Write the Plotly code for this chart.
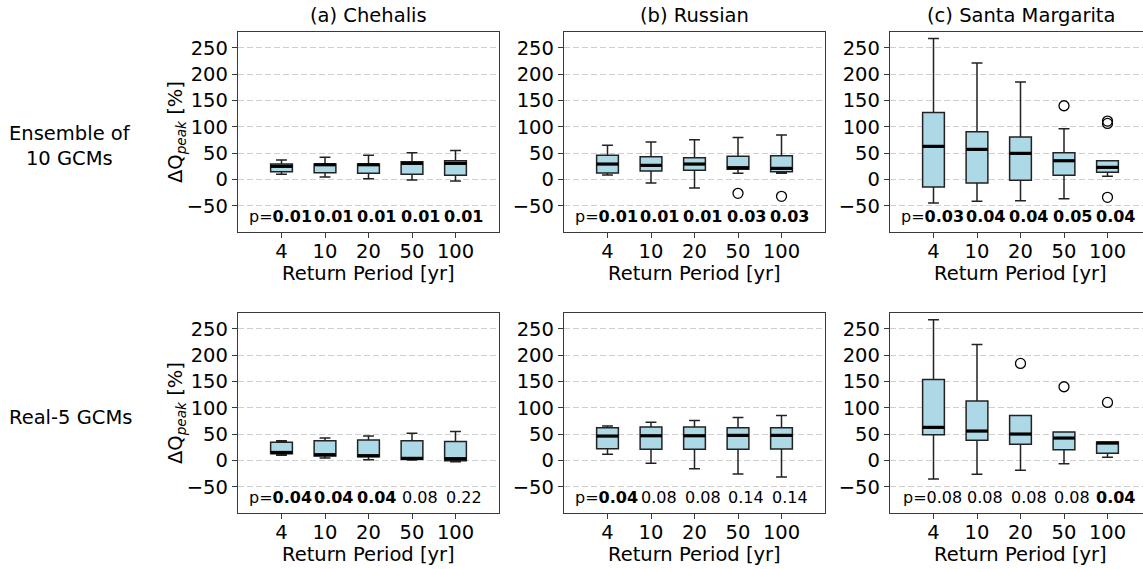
import plotly.graph_objects as go

# ---------------------------------------------------------------------------
# Data: change in peak flow (%) per return period, box statistics per panel
# ---------------------------------------------------------------------------
return_periods = ["4", "10", "20", "50", "100"]
positions = [1, 2, 3, 4, 5]
basin_titles = ["(a) Chehalis", "(b) Russian", "(c) Santa Margarita"]
row_titles = ["Ensemble of<br>10 GCMs", "Real-5 GCMs"]

# Ensemble of 10 GCMs -- Chehalis
ens_chehalis_low = [9.5, 4.4, 1.3, -1.3, -3.2]
ens_chehalis_q1 = [14.6, 12.7, 11.4, 9.5, 7.6]
ens_chehalis_med = [24.7, 27.8, 27.8, 30.4, 30.4]
ens_chehalis_q3 = [29.0, 29.0, 29.0, 33.5, 35.4]
ens_chehalis_high = [36.7, 41.8, 45.6, 50.6, 55.0]
ens_chehalis_out_x = []
ens_chehalis_out_y = []
ens_chehalis_p = ["0.01", "0.01", "0.01", "0.01", "0.01"]

# Ensemble of 10 GCMs -- Russian
ens_russian_low = [8.2, -7.0, -16.5, 11.4, 11.4]
ens_russian_q1 = [12.0, 15.8, 17.1, 19.0, 14.6]
ens_russian_med = [29.1, 26.6, 29.1, 22.2, 20.9]
ens_russian_q3 = [45.6, 43.0, 41.1, 43.7, 44.9]
ens_russian_high = [64.6, 70.9, 75.3, 79.7, 84.2]
ens_russian_out_x = [4, 5]
ens_russian_out_y = [-26.6, -32.3]
ens_russian_p = ["0.01", "0.01", "0.01", "0.03", "0.03"]

# Ensemble of 10 GCMs -- Santa Margarita
ens_santa_low = [-44.9, -41.8, -40.5, -36.7, 5.7]
ens_santa_q1 = [-14.6, -7.0, -1.9, 7.6, 13.3]
ens_santa_med = [62.7, 57.0, 49.4, 35.4, 22.8]
ens_santa_q3 = [127.2, 90.5, 80.4, 50.6, 35.4]
ens_santa_high = [267.7, 220.9, 184.8, 96.2, 35.4]
ens_santa_out_x = [4, 5, 5, 5]
ens_santa_out_y = [139.9, 110.8, 106.3, -34.2]
ens_santa_p = ["0.03", "0.04", "0.04", "0.05", "0.04"]

# Real-5 GCMs -- Chehalis
real_chehalis_low = [9.5, 4.4, 1.3, 0.6, -2.5]
real_chehalis_q1 = [12.5, 8.2, 7.0, 1.9, -0.6]
real_chehalis_med = [15.0, 10.8, 8.9, 3.8, 3.2]
real_chehalis_q3 = [34.2, 37.3, 38.6, 37.3, 36.0]
real_chehalis_high = [37.3, 42.4, 46.2, 51.3, 55.0]
real_chehalis_out_x = []
real_chehalis_out_y = []
real_chehalis_p = ["0.04", "0.04", "0.04", "0.08", "0.22"]

# Real-5 GCMs -- Russian
real_russian_low = [11.4, -5.7, -15.8, -25.9, -31.6]
real_russian_q1 = [22.2, 20.9, 20.9, 20.9, 21.5]
real_russian_med = [46.2, 46.8, 46.8, 47.5, 47.5]
real_russian_q3 = [62.0, 63.3, 63.3, 62.0, 62.0]
real_russian_high = [65.2, 72.2, 75.9, 81.6, 85.4]
real_russian_out_x = []
real_russian_out_y = []
real_russian_p = ["0.04", "0.08", "0.08", "0.14", "0.14"]

# Real-5 GCMs -- Santa Margarita
real_santa_low = [-35.4, -26.6, -19.0, -6.3, 5.7]
real_santa_q1 = [48.7, 38.0, 30.4, 20.3, 13.3]
real_santa_med = [62.7, 55.7, 50.0, 42.4, 32.9]
real_santa_q3 = [153.8, 112.7, 85.4, 53.8, 34.8]
real_santa_high = [267.0, 220.0, 85.4, 53.8, 34.8]
real_santa_out_x = [3, 4, 5]
real_santa_out_y = [184.2, 139.9, 110.1]
real_santa_p = ["0.08", "0.08", "0.08", "0.08", "0.04"]

y_ticks = [-50, 0, 50, 100, 150, 200, 250]
significance = 0.05

panels = [
    (ens_chehalis_low, ens_chehalis_q1, ens_chehalis_med, ens_chehalis_q3, ens_chehalis_high,
     ens_chehalis_out_x, ens_chehalis_out_y, ens_chehalis_p),
    (ens_russian_low, ens_russian_q1, ens_russian_med, ens_russian_q3, ens_russian_high,
     ens_russian_out_x, ens_russian_out_y, ens_russian_p),
    (ens_santa_low, ens_santa_q1, ens_santa_med, ens_santa_q3, ens_santa_high,
     ens_santa_out_x, ens_santa_out_y, ens_santa_p),
    (real_chehalis_low, real_chehalis_q1, real_chehalis_med, real_chehalis_q3, real_chehalis_high,
     real_chehalis_out_x, real_chehalis_out_y, real_chehalis_p),
    (real_russian_low, real_russian_q1, real_russian_med, real_russian_q3, real_russian_high,
     real_russian_out_x, real_russian_out_y, real_russian_p),
    (real_santa_low, real_santa_q1, real_santa_med, real_santa_q3, real_santa_high,
     real_santa_out_x, real_santa_out_y, real_santa_p),
]

# ---------------------------------------------------------------------------
# Layout geometry (pixels in a 1143 x 569 canvas)
# ---------------------------------------------------------------------------
W, H = 1143, 569
FONT = "DejaVu Sans"
LABEL_SIZE = 19.5
P_SIZE = 16
col_left = [238, 564, 890]
col_width = 261
row_top = [32, 313]
row_height = 200
x_span = 6.0
AXIS_COLOR = "#3a3a3a"
BOX_WIDTH = 0.5

fig = go.Figure()
annotations = []
layout_axes = {}

for k, (low, q1, med, q3, high, ox, oy, pvals) in enumerate(panels):
    r, c = divmod(k, 3)
    suffix = "" if k == 0 else str(k + 1)
    xa, ya = "x" + suffix, "y" + suffix

    x0 = col_left[c] / W
    x1 = min(col_left[c] + col_width, W) / W
    visible_px = min(col_left[c] + col_width, W) - col_left[c]
    y1 = 1 - row_top[r] / H
    y0 = 1 - (row_top[r] + row_height) / H

    layout_axes["xaxis" + suffix] = dict(
        domain=[x0, x1], anchor=ya, range=[0, x_span * visible_px / col_width],
        tickvals=positions, ticktext=return_periods, ticks="outside", ticklen=5,
        tickwidth=1.2, tickcolor=AXIS_COLOR, showline=True, linecolor=AXIS_COLOR,
        linewidth=1.3, mirror=True, showgrid=False, zeroline=False,
        ticklabelstandoff=-4,
        tickfont=dict(family=FONT, size=LABEL_SIZE, color="black"),
    )
    layout_axes["yaxis" + suffix] = dict(
        domain=[y0, y1], anchor=xa, range=[-100, 280],
        tickvals=y_ticks, ticktext=[str(v).replace("-", "\u2212") for v in y_ticks],
        ticks="outside", ticklen=5, tickwidth=1.2, tickcolor=AXIS_COLOR,
        showline=True, linecolor=AXIS_COLOR, linewidth=1.3,
        mirror=(c != 2 or visible_px == col_width),
        showgrid=True, gridcolor="#cfcfcf", gridwidth=1, griddash="6px,3px",
        zeroline=False, tickfont=dict(family=FONT, size=LABEL_SIZE, color="black"),
    )

    # Boxes from precomputed statistics
    fig.add_trace(go.Box(
        x=positions, q1=q1, median=med, q3=q3, lowerfence=low, upperfence=high,
        width=BOX_WIDTH, whiskerwidth=0.5, fillcolor="#add8e6",
        line=dict(color="#222222", width=1.5), xaxis=xa, yaxis=ya,
        showlegend=False, hoverinfo="skip",
    ))

    # Thick median bars
    mx, my = [], []
    for p, m in zip(positions, med):
        mx += [p - BOX_WIDTH / 2, p + BOX_WIDTH / 2, None]
        my += [m, m, None]
    fig.add_trace(go.Scatter(
        x=mx, y=my, mode="lines", line=dict(color="black", width=3.2),
        xaxis=xa, yaxis=ya, showlegend=False, hoverinfo="skip",
    ))

    # Outliers
    if ox:
        fig.add_trace(go.Scatter(
            x=ox, y=oy, mode="markers",
            marker=dict(symbol="circle-open", size=10, color="black",
                        line=dict(color="black", width=1.3)),
            xaxis=xa, yaxis=ya, showlegend=False, hoverinfo="skip",
        ))

    # p-values written under each box
    for i, (p, txt) in enumerate(zip(positions, pvals)):
        label = f"<b>{txt}</b>" if float(txt) <= significance else txt
        if i == 0:
            label = "p=" + label
            xpos = p - 0.02
        else:
            xpos = p + 0.19
        annotations.append(dict(
            x=xpos, y=-71, xref=xa, yref=ya, text=label, showarrow=False,
            xanchor="center", yanchor="middle",
            font=dict(family=FONT, size=P_SIZE, color="black"),
        ))

    # x-axis title
    annotations.append(dict(
        x=(col_left[c] + col_width / 2) / W, y=1 - (row_top[r] + row_height + 41) / H,
        xref="paper", yref="paper", text="Return Period [yr]", showarrow=False,
        xanchor="center", yanchor="middle",
        font=dict(family=FONT, size=LABEL_SIZE, color="black"),
    ))

    # Column titles on the top row
    if r == 0:
        annotations.append(dict(
            x=(col_left[c] + col_width / 2) / W, y=1 - 15 / H,
            xref="paper", yref="paper", text=basin_titles[c], showarrow=False,
            xanchor="center", yanchor="middle",
            font=dict(family=FONT, size=LABEL_SIZE, color="black"),
        ))

    # y-axis title on the left column
    if c == 0:
        annotations.append(dict(
            x=176 / W, y=1 - (row_top[r] + row_height / 2) / H,
            xref="paper", yref="paper",
            text="\u0394Q<sub><i>peak</i></sub> [%]", showarrow=False,
            textangle=-90, xanchor="center", yanchor="middle",
            font=dict(family=FONT, size=LABEL_SIZE, color="black"),
        ))
        annotations.append(dict(
            x=70 / W, y=1 - (row_top[r] + row_height / 2 + (14 if r == 0 else 4)) / H,
            xref="paper", yref="paper", text=row_titles[r], showarrow=False,
            xanchor="center", yanchor="middle", align="center",
            font=dict(family=FONT, size=LABEL_SIZE, color="black"),
        ))

fig.update_layout(
    width=W, height=H, margin=dict(l=0, r=0, t=0, b=0),
    paper_bgcolor="white", plot_bgcolor="white",
    annotations=annotations, **layout_axes,
)

fig.write_html("out.html")
